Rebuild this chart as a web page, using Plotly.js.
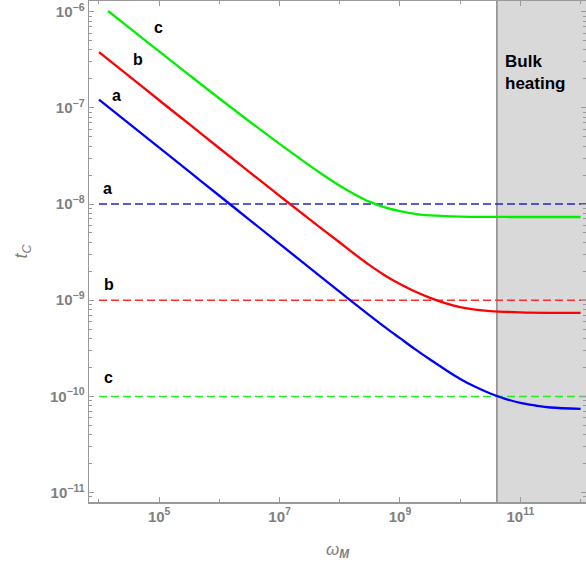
<!DOCTYPE html>
<html>
<head>
<meta charset="utf-8">
<script src="https://cdn.plot.ly/plotly-3.0.1.min.js"></script>
<style>html,body{margin:0;padding:0;background:#fff;}#chart{width:586px;height:565px;}</style>
</head>
<body>
<div id="chart"></div>
<script>
// ---- data ----
const omegaA = [1e4, 3.162e4, 1e5, 3.162e5, 1e6, 3.162e6, 1e7, 3.162e7, 1e8, 3.162e8, 5.623e8, 1e9, 1.778e9, 3.162e9, 5.623e9, 1e10, 1.778e10, 3.162e10, 5.623e10, 1e11, 1.778e11, 3.162e11, 1e12];
const tcA = [1.219e-7, 6.86e-8, 3.855e-8, 2.168e-8, 1.219e-8, 6.86e-9, 3.855e-9, 2.168e-9, 1.219e-9, 6.92e-10, 5.25e-10, 4.03e-10, 3.10e-10, 2.415e-10, 1.905e-10, 1.521e-10, 1.259e-10, 1.072e-10, 9.44e-11, 8.55e-11, 8.04e-11, 7.67e-11, 7.43e-11];
const omegaB = [1e4, 3.162e4, 1e5, 3.162e5, 1e6, 3.162e6, 1e7, 3.162e7, 1e8, 1.778e8, 3.162e8, 5.623e8, 1e9, 1.778e9, 3.162e9, 5.623e9, 1e10, 1.778e10, 3.162e10, 1e11, 3.162e11, 1e12];
const tcB = [3.80e-7, 2.14e-7, 1.20e-7, 6.76e-8, 3.80e-8, 2.15e-8, 1.216e-8, 6.92e-9, 3.981e-9, 3.006e-9, 2.301e-9, 1.811e-9, 1.472e-9, 1.230e-9, 1.057e-9, 9.33e-10, 8.47e-10, 7.98e-10, 7.71e-10, 7.48e-10, 7.40e-10, 7.38e-10];
const omegaC = [1.413e4, 3.162e4, 1e5, 3.162e5, 1e6, 3.162e6, 1e7, 3.162e7, 5.623e7, 1e8, 1.778e8, 3.162e8, 5.623e8, 1e9, 1.778e9, 3.162e9, 1e10, 3.162e10, 1e11, 3.162e11, 1e12];
const tcC = [1.016e-6, 6.82e-7, 3.86e-7, 2.19e-7, 1.25e-7, 7.21e-8, 4.22e-8, 2.51e-8, 1.959e-8, 1.549e-8, 1.259e-8, 1.052e-8, 9.23e-9, 8.43e-9, 7.91e-9, 7.62e-9, 7.41e-9, 7.35e-9, 7.33e-9, 7.33e-9, 7.33e-9];
const thresholds = [1e-8, 1e-9, 1e-10];          // dashed levels a, b, c
const thresholdOmega = [1e4, 1e13];
const bulkStart = 4.07e10;                       // start of bulk-heating region
const bulkEnd = 1e13;
const xTickVals = [1e5, 1e7, 1e9, 1e11];
const xTickText = ['10<sup>5</sup>', '10<sup>7</sup>', '10<sup>9</sup>', '10<sup>11</sup>'];
const xMinorVals = [1e4, 1e6, 1e8, 1e10, 1e12];
const yTickVals = [1e-11, 1e-10, 1e-9, 1e-8, 1e-7, 1e-6];
const yTickText = ['10<sup>−11</sup>', '10<sup>−10</sup>', '10<sup>−9</sup>', '10<sup>−8</sup>', '10<sup>−7</sup>', '10<sup>−6</sup>'];
const yMinorVals = [];
for (let e = -12; e <= -6; e++) for (let m = 2; m <= 9; m++) yMinorVals.push(m * Math.pow(10, e));

const solidColors = ['#0000ff', '#ff0000', '#00f000'];
const dashColors = ['#2424c8', '#ff2a2a', '#22ee22'];

const traces = [];
thresholds.forEach((t, i) => {
  traces.push({x: thresholdOmega, y: [t, t], mode: 'lines', hoverinfo: 'skip',
    line: {color: dashColors[i], width: 1.5, dash: '8px,4px'}});
});
traces.push({x: omegaA, y: tcA, mode: 'lines', line: {color: solidColors[0], width: 2.3, shape: 'spline', smoothing: 1}});
traces.push({x: omegaB, y: tcB, mode: 'lines', line: {color: solidColors[1], width: 2.3, shape: 'spline', smoothing: 1}});
traces.push({x: omegaC, y: tcC, mode: 'lines', line: {color: solidColors[2], width: 2.3, shape: 'spline', smoothing: 1}});

const gray = '#808080';
const tickFont = {family: 'Liberation Sans, Arial, sans-serif', size: 15, color: gray, weight: 'bold'};
const lblFont = {family: 'Liberation Sans, Arial, sans-serif', size: 16, color: '#000', weight: 'bold'};
function lbl(txt, lx, ly) {
  return {text: txt, x: lx, y: ly, xref: 'x', yref: 'y', showarrow: false, font: lblFont, xanchor: 'center', yanchor: 'middle'};
}

const layout = {
  width: 586, height: 565,
  margin: {l: 89, r: 0, t: 1, b: 63},
  paper_bgcolor: '#fff', plot_bgcolor: '#fff',
  showlegend: false,
  xaxis: {
    type: 'log', range: [3.834, 12.09], showgrid: false, zeroline: false,
    showline: true, linecolor: '#999', linewidth: 1.5, mirror: 'ticks',
    ticks: 'inside', ticklen: 5, tickwidth: 1, tickcolor: '#999',
    tickmode: 'array', tickvals: xTickVals, ticktext: xTickText,
    tickfont: tickFont,
    minor: {ticks: 'inside', ticklen: 3, tickcolor: '#999', tickmode: 'array', tickvals: xMinorVals, showgrid: false},
    title: {text: '<i>ω<sub><b>M</b></sub></i>', font: {family: 'Liberation Sans, Arial, sans-serif', size: 17, color: gray}, standoff: 19}
  },
  yaxis: {
    type: 'log', range: [-11.098, -5.889], showgrid: false, zeroline: false,
    showline: true, linecolor: '#999', linewidth: 1.5, mirror: 'ticks',
    ticks: 'inside', ticklen: 5, tickwidth: 1, tickcolor: '#999',
    tickmode: 'array', tickvals: yTickVals, ticktext: yTickText,
    tickfont: tickFont,
    minor: {ticks: 'inside', ticklen: 3, tickcolor: '#999', tickmode: 'array', tickvals: yMinorVals, showgrid: false},
    title: {text: '<i>t<sub>C</sub></i>', font: {family: 'Liberation Sans, Arial, sans-serif', size: 18, color: gray}, standoff: 17}
  },
  shapes: [
    {type: 'rect', xref: 'x', yref: 'paper', x0: bulkStart, x1: bulkEnd, y0: 0, y1: 1, layer: 'below', fillcolor: '#d9d9d9', line: {width: 0}},
    {type: 'line', xref: 'x', yref: 'paper', x0: bulkStart, x1: bulkStart, y0: 0, y1: 1, layer: 'below', line: {color: '#888', width: 1.5}}
  ],
  annotations: [
    lbl('c', 4.995, -6.169),
    lbl('b', 4.647, -6.502),
    lbl('a', 4.298, -6.875),
    lbl('a', 4.149, -7.841),
    lbl('b', 4.166, -8.838),
    lbl('c', 4.166, -9.807),
    {text: 'Bulk<br>heating', x: 10.716, y: -6.637, xref: 'x', yref: 'y', showarrow: false, align: 'left',
     xanchor: 'left', yanchor: 'middle', font: {family: 'Liberation Sans, Arial, sans-serif', size: 17, color: '#000', weight: 'bold'}}
  ]
};

Plotly.newPlot('chart', traces, layout, {displayModeBar: false, staticPlot: true});
</script>
</body>
</html>
